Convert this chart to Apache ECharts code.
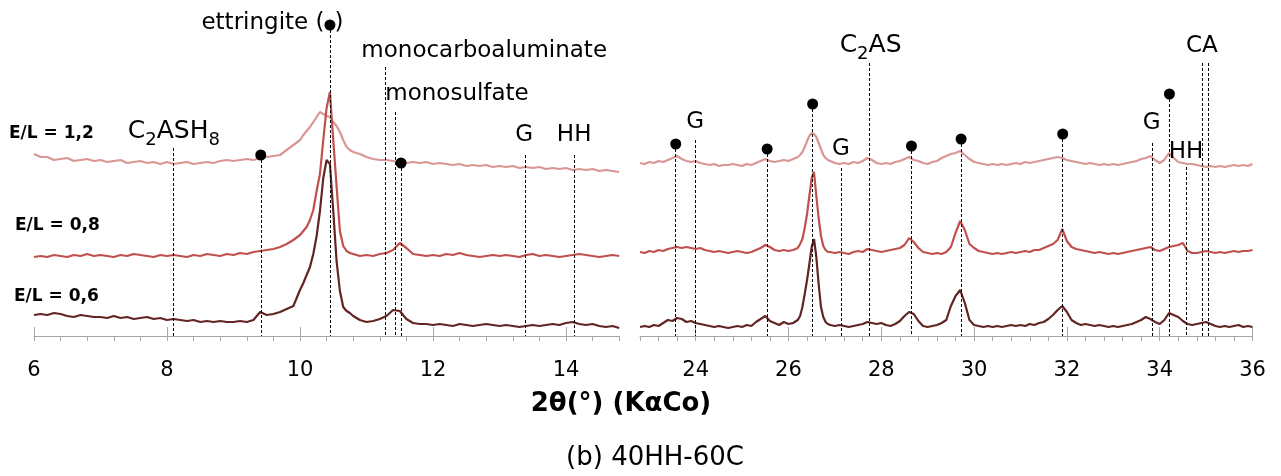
<!DOCTYPE html>
<html>
<head>
<meta charset="utf-8">
<script src="https://cdn.jsdelivr.net/npm/echarts@6/dist/echarts.min.js"></script>
<style>html,body{margin:0;padding:0;background:#fff;}#c{width:1281px;height:476px;}</style>
</head>
<body>
<div id="c"></div>
<script>
// ---------- data ----------
const leftX = [6.0,6.1,6.2,6.3,6.4,6.5,6.6,6.7,6.8,6.9,
 7.0,7.1,7.2,7.3,7.4,7.5,7.6,7.7,7.8,7.9,
 8.0,8.1,8.2,8.3,8.4,8.5,8.6,8.7,8.8,8.9,
 9.0,9.1,9.2,9.3,9.4,9.5,9.6,9.7,9.8,9.9,
 10.0,10.05,10.1,10.15,10.2,10.25,10.3,10.35,10.4,10.45,10.5,10.55,10.6,10.65,10.7,10.75,10.8,
 10.9,11.0,11.1,11.2,11.3,11.4,11.5,11.6,11.7,11.8,
 11.9,12.0,12.1,12.2,12.3,12.4,12.5,12.6,12.7,12.8,
 12.9,13.0,13.1,13.2,13.3,13.4,13.5,13.6,13.7,13.8,
 13.9,14.0,14.1,14.2,14.3,14.4,14.5,14.6,14.7,14.8];

const pinkLeft = [182,179,179,176,177,178,175,176,177,175,
 176,174,175,176,173,174,175,173,174,172,
 174,172,173,174,172,173,174,173,175,176,
 175,176,177,176,178,179,180,181,186,191,
 196,201,205,209,214,219,224,222,220,219,214,210,204,196,189,186,184,
 182,179,177,176,176,175,174,173,174,173,
 174,172,173,172,171,172,170,171,170,171,
 169,170,169,170,168,169,168,169,167,168,
 167,168,166,167,166,167,165,166,165,164];

const redLeft = [79,80,79,81,80,79,81,80,82,80,
 81,80,79,81,80,82,81,80,79,81,
 80,81,80,79,81,80,82,81,80,82,
 81,83,82,84,85,86,87,89,92,96,
 101,105,109,116,126,145,162,196,228,244,196,150,105,90,85,83,82,
 80,81,80,82,83,86,93,88,82,81,
 80,81,80,82,81,83,81,80,79,80,
 81,80,81,80,79,81,82,80,81,80,
 79,80,81,82,81,80,79,80,81,80];

const darkLeft = [21,22,21,23,22,20,19,21,20,19,
 19,18,20,18,19,17,18,19,17,18,
 16,17,16,15,16,14,15,14,15,14,
 14,15,14,16,24,21,22,24,27,30,
 46,53,61,69,82,100,125,158,176,172,125,75,45,29,25,23,20,
 16,14,15,17,20,26,25,17,13,12,
 12,11,12,11,10,12,11,10,11,12,
 11,10,11,10,9,10,11,10,11,12,
 11,13,14,12,11,12,10,9,10,8];

const rightX = [22.8,22.9,23.0,23.1,23.2,23.3,23.4,23.5,23.6,23.7,
 23.8,23.9,24.0,24.1,24.2,24.3,24.4,24.5,24.6,24.7,
 24.8,24.9,25.0,25.1,25.2,25.3,25.4,25.5,25.6,25.7,
 25.8,25.9,26.0,26.1,26.2,
 26.25,26.3,26.35,26.4,26.45,26.5,26.55,26.6,26.65,26.7,26.75,26.8,26.85,
 26.9,27.0,27.1,27.2,27.3,27.4,27.5,27.6,27.7,27.8,
 27.9,28.0,28.1,28.2,28.3,28.4,28.5,28.6,28.7,28.8,
 28.9,29.0,29.1,29.2,29.3,29.4,29.5,29.6,29.7,29.8,
 29.9,30.0,30.1,30.2,30.3,30.4,30.5,30.6,30.7,30.8,
 30.9,31.0,31.1,31.2,31.3,31.4,31.5,31.6,31.7,31.8,
 31.9,32.0,32.1,32.2,32.3,32.4,32.5,32.6,32.7,32.8,
 32.9,33.0,33.1,33.2,33.3,33.4,33.5,33.6,33.7,33.8,
 33.9,34.0,34.1,34.2,34.3,34.4,34.5,34.6,34.7,34.8,
 34.9,35.0,35.1,35.2,35.3,35.4,35.5,35.6,35.7,35.8,
 35.9,36.0];

const pinkRight = [173,172,174,173,175,174,176,178,180,177,
 175,174,175,173,172,171,172,170,171,171,
 172,171,170,172,171,173,175,177,175,174,
 175,176,175,177,179,
 181,184,189,195,200,203,202,199,193,187,181,178,176,
 175,173,172,173,172,174,173,175,178,176,
 173,172,173,172,174,175,177,179,176,175,
 173,172,174,175,178,180,182,183,185,181,
 177,174,173,172,171,172,171,172,171,172,
 173,172,174,173,174,175,176,177,178,179,
 178,176,175,174,173,172,173,172,171,172,
 171,172,171,172,173,174,175,177,178,180,
 176,173,176,183,178,174,173,172,172,171,
 170,169,170,169,170,169,170,171,170,171,
 170,172];

const redRight = [84,83,85,84,86,85,87,88,89,88,
 89,88,87,88,86,85,84,85,84,83,
 84,85,84,83,84,86,88,91,89,86,
 85,86,85,86,88,
 92,97,108,122,140,158,164,140,118,100,90,86,84,
 84,83,84,83,82,84,85,84,87,86,
 85,84,85,86,87,88,91,98,94,88,
 84,83,82,83,82,84,89,103,115,106,
 92,88,85,84,83,82,83,82,83,84,
 83,84,85,84,86,86,88,90,92,96,
 107,95,89,87,86,85,84,83,84,83,
 82,83,82,83,84,85,86,87,88,89,
 86,85,87,89,90,91,93,85,83,83,
 84,85,84,83,84,83,84,85,84,85,
 85,86];

const darkRight = [9,10,9,11,10,13,16,15,18,17,
 14,15,13,12,11,10,9,10,9,8,
 9,10,9,11,10,14,17,20,15,13,
 11,14,12,13,16,
 20,29,42,56,72,89,97,79,52,29,19,14,12,
 11,10,11,10,9,10,11,12,14,13,
 12,13,11,10,12,15,20,24,22,15,
 10,9,10,11,13,16,30,40,46,33,
 16,11,10,9,10,9,10,9,10,11,
 10,11,10,12,11,13,14,17,21,26,
 30,24,16,13,11,12,11,10,11,10,
 9,10,9,10,11,12,14,16,19,17,
 14,12,16,23,21,19,15,12,11,12,
 13,14,12,10,9,10,9,10,11,9,
 10,9];

// tick labels / tick positions
const majorLeft = [6, 8, 10, 12, 14];
const minorLeft = [6,6.4,6.8,7.2,7.6,8,8.4,8.8,9.2,9.6,10,10.4,10.8,11.2,11.6,12,12.4,12.8,13.2,13.6,14,14.4,14.8];
const majorRight = [24, 26, 28, 30, 32, 34, 36];
const minorRight = [22.8,23.2,23.6,24,24.4,24.8,25.2,25.6,26,26.4,26.8,27.2,27.6,28,28.4,28.8,29.2,29.6,30,30.4,30.8,31.2,31.6,32,32.4,32.8,33.2,33.6,34,34.4,34.8,35.2,35.6,36];

// reference lines (phase positions) and their top intensity
const refLeftX   = [8.10, 9.41, 10.45, 11.28, 11.43, 11.52, 13.38, 14.13];
const refLeftTop = [188, 181, 311, 269, 224, 173, 181, 181];
const refRightX   = [23.57, 24.0, 25.54, 26.52, 27.14, 27.73, 28.65, 29.72, 31.91, 33.84, 34.21, 34.57, 34.92, 35.04];
const refRightTop = [192, 196, 187, 232, 168, 273, 190, 197, 202, 193, 242, 169, 273, 273];

// ettringite markers (black dots)
const dotLeftX = [9.41, 10.45, 11.52];
const dotLeftY = [181, 311, 173];
const dotRightX = [23.57, 25.54, 26.52, 28.65, 29.72, 31.91, 34.21];
const dotRightY = [192, 187, 232, 190, 197, 202, 242];

// phase labels
const labLeftText = ['{a|C}{s|2}{a|ASH}{s|8}', 'ettringite (', ')', 'monocarboaluminate', 'monosulfate', 'G', 'HH'];
const labLeftX = [8.11, 10.376, 10.526, 10.93, 11.29, 13.38, 14.13];
const labLeftY = [204.5, 312, 312, 284, 241, 200.5, 200.5];
const labLeftAlign = ['center', 'right', 'left', 'left', 'left', 'center', 'center'];
const labRightText = ['G', 'G', '{a|C}{s|2}{a|AS}', 'G', 'HH', 'CA'];
const labRightX = [24.0, 27.14, 27.78, 33.84, 34.58, 34.92];
const labRightY = [213.5, 186.5, 290, 212, 183.5, 289];

const seriesNames = ['E/L = 1,2', 'E/L = 0,8', 'E/L = 0,6'];
const colors = ['#d99694', '#c0504d', '#632523'];

// ---------- chart ----------
const FONT = '"DejaVu Sans", sans-serif';
const pair = (xs, ys) => xs.map((x, i) => [x, ys[i]]);
const axisGray = '#a6a6a6';

function minorAxis(g, min, max, ticks) {
  return {
    gridIndex: g, type: 'value', min: min, max: max, position: 'bottom',
    axisLine: { show: true, onZero: false, lineStyle: { color: axisGray, width: 1 } },
    axisTick: { show: true, customValues: ticks, length: 5, lineStyle: { color: axisGray } },
    axisLabel: { show: false }, splitLine: { show: false }
  };
}
function majorAxis(g, min, max, ticks) {
  return {
    gridIndex: g, type: 'value', min: min, max: max, position: 'bottom',
    axisLine: { show: false, onZero: false },
    axisTick: { show: true, inside: true, customValues: ticks, length: 9, lineStyle: { color: axisGray } },
    axisLabel: { show: true, customValues: ticks, margin: 24, fontSize: 21, fontFamily: FONT, color: '#000' },
    splitLine: { show: false }
  };
}

function traces(xIdx, yIdx, xs, arrs) {
  return arrs.map((a, k) => ({
    name: seriesNames[k], type: 'line', xAxisIndex: xIdx, yAxisIndex: yIdx,
    data: pair(xs, a), showSymbol: false, symbol: 'none',
    lineStyle: { color: colors[k], width: 2.2 }, z: 2 + k, silent: true
  }));
}

function refSeries(xIdx, yIdx, xs, tops) {
  return {
    type: 'line', xAxisIndex: xIdx, yAxisIndex: yIdx, data: [], silent: true, z: 8,
    markLine: {
      silent: true, symbol: ['none', 'none'], label: { show: false },
      lineStyle: { color: '#000', width: 1, type: [3, 2], opacity: 1 },
      data: xs.map((x, i) => [{ coord: [x, tops[i]] }, { coord: [x, 0] }])
    }
  };
}

function dotSeries(xIdx, yIdx, xs, ys) {
  return {
    type: 'scatter', xAxisIndex: xIdx, yAxisIndex: yIdx, data: pair(xs, ys),
    symbol: 'circle', symbolSize: 11, itemStyle: { color: '#000', opacity: 1 }, z: 10, silent: true
  };
}

function labelSeries(xIdx, yIdx, xs, ys, texts, aligns) {
  return {
    type: 'scatter', xAxisIndex: xIdx, yAxisIndex: yIdx, silent: true, z: 11,
    symbolSize: 1, itemStyle: { color: 'rgba(0,0,0,0)', opacity: 1 },
    data: xs.map((x, i) => ({ value: [x, ys[i]], name: texts[i],
      label: { align: aligns ? aligns[i] : 'center' } })),
    label: {
      show: true, position: [0, 0], verticalAlign: 'middle', opacity: 1,
      formatter: p => p.name, color: '#000', fontFamily: FONT, fontSize: 23,
      rich: {
        a: { fontFamily: FONT, fontSize: 25, lineHeight: 36, color: '#000' },
        s: { fontFamily: FONT, fontSize: 18, lineHeight: 18, verticalAlign: 'bottom', color: '#000' }
      }
    }
  };
}

function txt(x, y, text, font, align) {
  return { type: 'text', x: x, y: y, silent: true,
    style: { text: text, font: font, fill: '#000', textAlign: align, align: align,
      textVerticalAlign: 'middle', verticalAlign: 'middle' } };
}

const chart = echarts.init(document.getElementById('c'), null, { renderer: 'canvas' });
chart.setOption({
  animation: false,
  backgroundColor: '#ffffff',
  grid: [
    { left: 34, top: 0, width: 585.2, height: 336 },
    { left: 640, top: 0, width: 612.5, height: 336 }
  ],
  xAxis: [
    minorAxis(0, 6, 14.8, minorLeft),
    majorAxis(0, 6, 14.8, majorLeft),
    minorAxis(1, 22.8, 36, minorRight),
    majorAxis(1, 22.8, 36, majorRight)
  ],
  yAxis: [
    { gridIndex: 0, type: 'value', min: 0, max: 336, show: false },
    { gridIndex: 1, type: 'value', min: 0, max: 336, show: false }
  ],
  series: [
    ...traces(0, 0, leftX, [pinkLeft, redLeft, darkLeft]),
    ...traces(2, 1, rightX, [pinkRight, redRight, darkRight]),
    refSeries(0, 0, refLeftX, refLeftTop),
    refSeries(2, 1, refRightX, refRightTop),
    dotSeries(0, 0, dotLeftX, dotLeftY),
    dotSeries(2, 1, dotRightX, dotRightY),
    labelSeries(0, 0, labLeftX, labLeftY, labLeftText, labLeftAlign),
    labelSeries(2, 1, labRightX, labRightY, labRightText, null)
  ],
  graphic: [
    txt(9, 133.5, seriesNames[0], 'bold 17px ' + FONT, 'left'),
    txt(15, 226, seriesNames[1], 'bold 17px ' + FONT, 'left'),
    txt(14, 297, seriesNames[2], 'bold 17px ' + FONT, 'left'),
    txt(621, 404, '2θ(°) (KαCo)', 'bold 26px ' + FONT, 'center'),
    txt(655, 458, '(b) 40HH-60C', '26px ' + FONT, 'center')
  ]
});
</script>
</body>
</html>
